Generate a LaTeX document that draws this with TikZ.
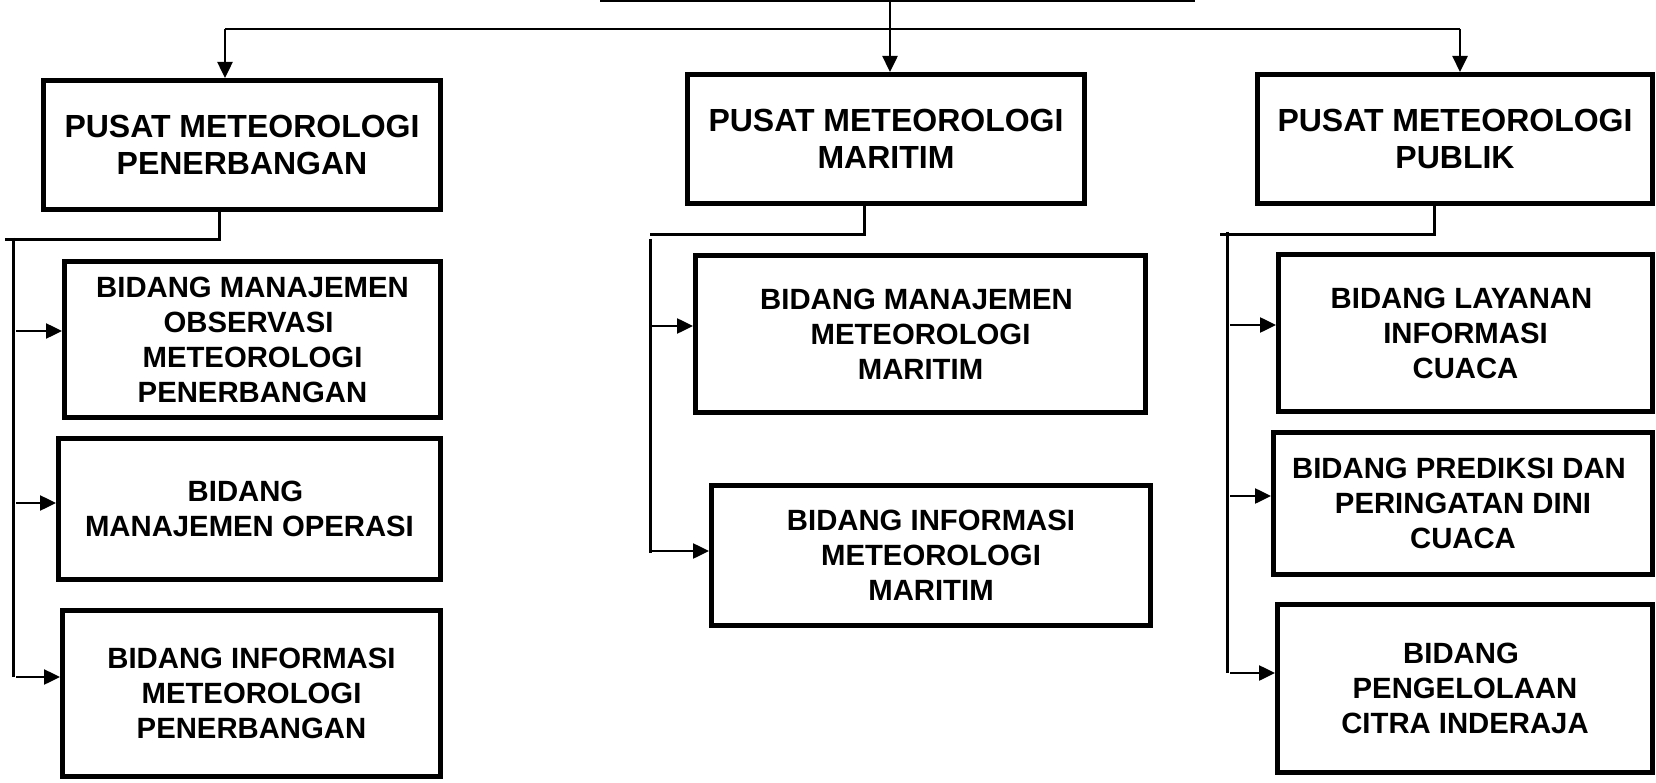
\documentclass[tikz,border=0pt]{standalone}
\usepackage{fontspec}
\setmainfont{Liberation Sans}
\usetikzlibrary{arrows.meta}
\begin{document}
\begin{tikzpicture}[x=1pt,y=-1pt,
  box/.style={draw, line width=5pt, rectangle, inner sep=0pt, align=center,
    font=\fontsize{29.3}{35}\selectfont\bfseries},
  headbox/.style={box, font=\fontsize{32}{36.5}\selectfont\bfseries},
  tree/.style={line width=3pt},
  arr/.style={line width=2.5pt, -{Triangle[length=16pt,width=15pt]}},
]
\useasboundingbox[fill=white] (0,0) rectangle (1656,783);

% head boxes
\node[headbox, minimum width=397pt, minimum height=129pt] (PEN) at (242,145) {PUSAT METEOROLOGI\\PENERBANGAN};
\node[headbox, minimum width=397pt, minimum height=129pt] (MAR) at (886,139) {PUSAT METEOROLOGI\\MARITIM};
\node[headbox, minimum width=395pt, minimum height=129pt] (PUB) at (1455,139) {PUSAT METEOROLOGI\\PUBLIK};

% left column
\node[box, minimum width=376pt, minimum height=156pt] (B1) at (252.5,339.5) {BIDANG MANAJEMEN\\OBSERVASI\kern8pt\\METEOROLOGI\\PENERBANGAN};
\node[box, minimum width=382pt, minimum height=141pt] (B2) at (249.5,509) {BIDANG\kern8pt\\MANAJEMEN OPERASI};
\node[box, minimum width=378pt, minimum height=166pt] (B3) at (251.5,693.5) {BIDANG INFORMASI\\METEOROLOGI\\PENERBANGAN};

% middle column
\node[box, minimum width=450pt, minimum height=157pt] (M1) at (920.5,334) {BIDANG MANAJEMEN\kern8pt\\METEOROLOGI\\MARITIM};
\node[box, minimum width=439pt, minimum height=140pt] (M2) at (931,555.5) {BIDANG INFORMASI\\METEOROLOGI\\MARITIM};

% right column
\node[box, minimum width=374pt, minimum height=157pt] (P1) at (1465.5,333) {BIDANG LAYANAN\kern8pt\\INFORMASI\\CUACA};
\node[box, minimum width=379pt, minimum height=142pt] (P2) at (1463,503.5) {BIDANG PREDIKSI DAN\kern8pt\\PERINGATAN DINI\\CUACA};
\node[box, minimum width=375pt, minimum height=168pt] (P3) at (1465,688.5) {BIDANG\kern8pt\\PENGELOLAAN\\CITRA INDERAJA};

% top connectors
\coordinate (parentL) at (600,1);
\coordinate (parentR) at (1195,1);
\coordinate (root) at (890,0);
\coordinate (hL) at (225,29);
\coordinate (hR) at (1460,29);
\draw[line width=2.5pt] (parentL) -- (parentR);
\draw[line width=2.5pt] (hL) -- (hR);
\draw[arr] (root) -- (root |- MAR.north);
\draw[arr] (hL) -- (hL |- PEN.north);
\draw[arr] (hR) -- (hR |- PUB.north);

% left tree
\coordinate (lj) at (219,240);
\coordinate (lend) at (5,240);
\coordinate (lbusT) at (13,238);
\coordinate (lbusB) at (13,677);
\draw[tree] (lj |- PEN.south) -- (lj) -- (lend);
\draw[tree] (lbusT) -- (lbusB);
\coordinate (la1) at (16,331);
\coordinate (la2) at (16,503);
\coordinate (la3) at (16,677);
\draw[arr] (la1) -- (la1 -| B1.west);
\draw[arr] (la2) -- (la2 -| B2.west);
\draw[arr] (la3) -- (la3 -| B3.west);

% middle tree
\coordinate (mj) at (864,235);
\coordinate (mend) at (650,235);
\coordinate (mbusT) at (650,239);
\coordinate (mbusB) at (650,553);
\draw[tree] (mj |- MAR.south) -- (mj) -- (mend);
\draw[tree] (mbusT) -- (mbusB);
\coordinate (ma1) at (652,326);
\coordinate (ma2) at (652,551);
\draw[arr] (ma1) -- (ma1 -| M1.west);
\draw[arr] (ma2) -- (ma2 -| M2.west);

% right tree
\coordinate (rj) at (1434,235);
\coordinate (rend) at (1220,235);
\coordinate (rbusT) at (1227,232);
\coordinate (rbusB) at (1227,673);
\draw[tree] (rj |- PUB.south) -- (rj) -- (rend);
\draw[tree] (rbusT) -- (rbusB);
\coordinate (ra1) at (1230,325);
\coordinate (ra2) at (1230,496);
\coordinate (ra3) at (1230,673);
\draw[arr] (ra1) -- (ra1 -| P1.west);
\draw[arr] (ra2) -- (ra2 -| P2.west);
\draw[arr] (ra3) -- (ra3 -| P3.west);
\end{tikzpicture}
\end{document}
